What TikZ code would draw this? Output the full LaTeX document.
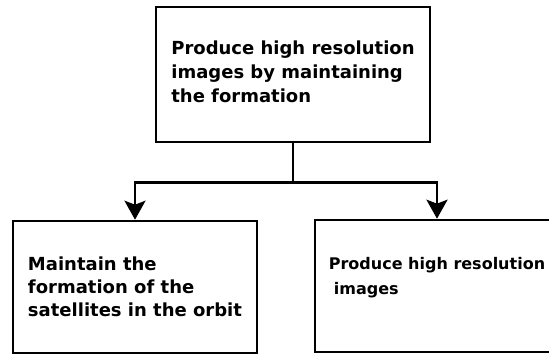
\documentclass[tikz,border=0pt]{standalone}
\usepackage{fontspec}
\setmainfont{DejaVu Sans}
\usetikzlibrary{arrows.meta,positioning}

\tikzset{
  goalbox/.style={draw, line width=2.6pt, align=left, inner sep=0pt,
    font=\bfseries\fontsize{18}{24}\selectfont},
  subbox/.style={goalbox, font=\bfseries\fontsize{18}{23}\selectfont},
  smallbox/.style={goalbox, font=\bfseries\fontsize{16}{25}\selectfont},
  trunk/.style={line width=2.6pt},
  flow/.style={trunk, -{Stealth[length=19pt, width=21pt, inset=4pt]}}
}

\begin{document}
\begin{tikzpicture}[x=1pt, y=-1pt]
  \clip (0,0) rectangle (549,354);
  \node[goalbox, minimum width=274pt, minimum height=135pt] (goal) at (293,74.5)
    {Produce high resolution\\images by maintaining\\the formation\\[-18pt]};
  \node[subbox, minimum width=244pt, minimum height=132pt] (keep) at (135,287)
    {Maintain the\\formation of the\\satellites in the orbit};
  \node[smallbox, minimum width=244pt, minimum height=132pt] (image) at (437,286)
    {Produce high resolution\\\hspace{5pt}images\\[-5pt]\mbox{}};
  % tree connectors
  \draw[trunk] (goal.south) -- ++(0,39) coordinate (split);
  \draw[flow] (split) -| (keep.north);
  \draw[flow] (split) -| (image.north);
\end{tikzpicture}
\end{document}
